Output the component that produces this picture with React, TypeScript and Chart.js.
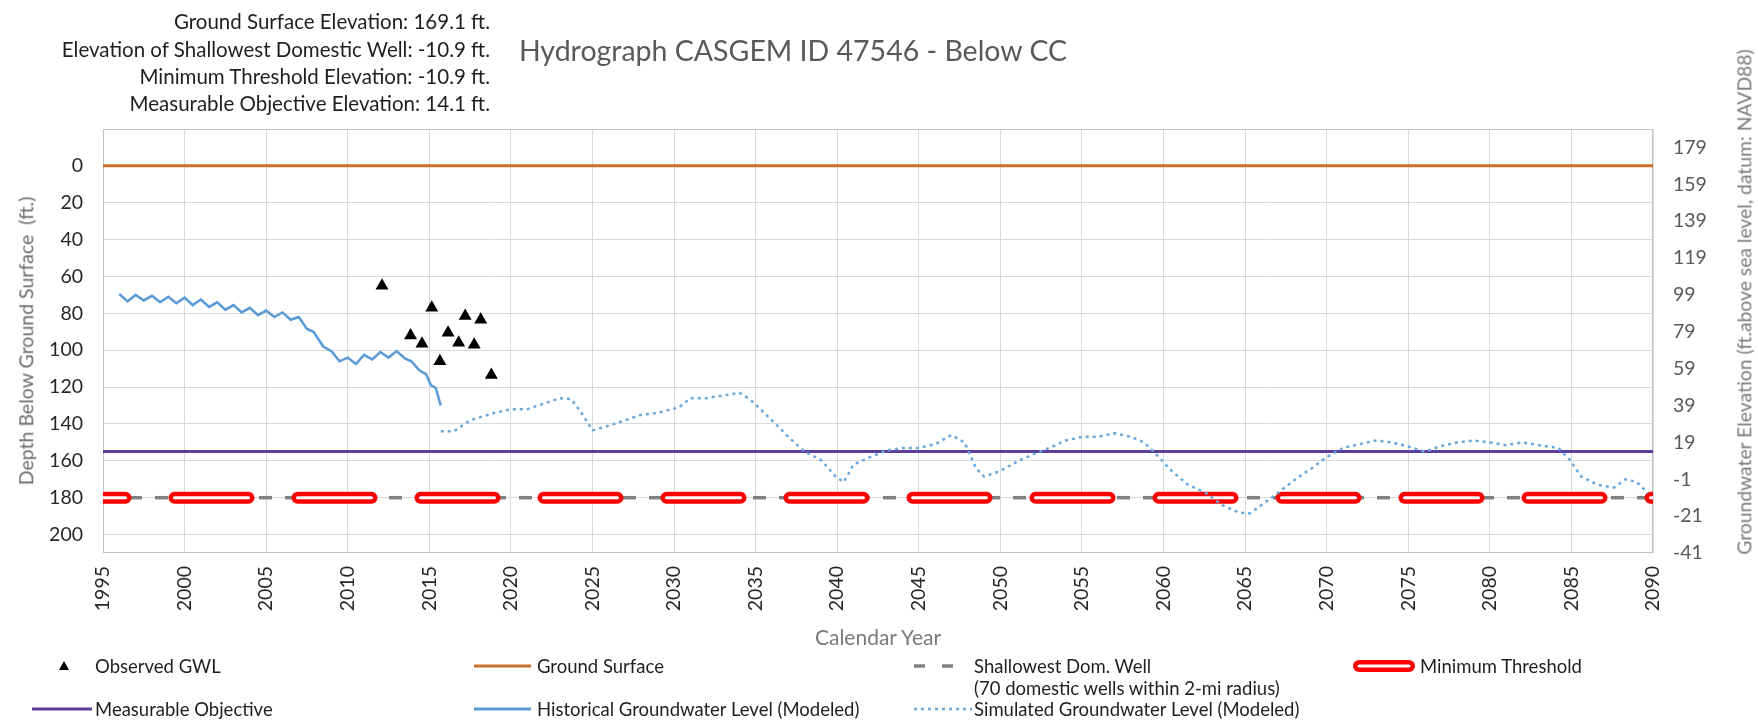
import React, { useEffect, useRef } from "react";
import { Chart, registerables } from "chart.js";

Chart.register(...registerables);

// ---- reference elevations (ft, NAVD88) ----
const GROUND_SURFACE_ELEV = 169.1;
const SHALLOW_WELL_ELEV = -10.9;
const MIN_THRESHOLD_ELEV = -10.9;
const MEASURABLE_OBJ_ELEV = 14.1;

// ---- axes ----
const yearRange = [1995, 2090];
const yearTicks = [1995, 2000, 2005, 2010, 2015, 2020, 2025, 2030, 2035, 2040, 2045, 2050, 2055, 2060, 2065, 2070, 2075, 2080, 2085, 2090];
const depthRange = [-20, 210];
const depthTicks = [0, 20, 40, 60, 80, 100, 120, 140, 160, 180, 200];
const elevationRange = [-41, 189];
const elevationTicks = [-41, -21, -1, 19, 39, 59, 79, 99, 119, 139, 159, 179];

// ---- observed groundwater levels (depth below ground surface, ft) ----
const observedYears = [2012.1, 2013.85, 2014.55, 2015.15, 2015.65, 2016.15, 2016.8, 2017.2, 2017.75, 2018.15, 2018.8];
const observedDepths = [65, 92, 96.5, 77, 106, 90.5, 96, 81.5, 97, 83.5, 113.5];

// ---- historical groundwater level (modeled) ----
const historicalYears = [1996.0, 1996.5, 1997.0, 1997.5, 1998.0, 1998.5, 1999.0, 1999.5, 2000.0, 2000.5, 2001.0, 2001.5, 2002.0, 2002.5, 2003.0, 2003.5, 2004.0, 2004.5, 2005.0, 2005.5, 2006.0, 2006.5, 2007.0, 2007.5, 2007.9, 2008.5, 2009.0, 2009.5, 2010.0, 2010.5, 2011.0, 2011.5, 2012.0, 2012.5, 2013.0, 2013.5, 2013.9, 2014.4, 2014.8, 2015.1, 2015.4, 2015.7];
const historicalDepths = [69.5, 73.5, 70.0, 73.0, 70.5, 74.0, 71.0, 74.5, 71.5, 75.5, 72.5, 76.5, 74.0, 78.0, 75.5, 79.5, 77.0, 81.0, 78.5, 82.0, 79.5, 83.5, 82.0, 88.5, 90.0, 98.0, 100.5, 106.0, 104.0, 107.5, 102.5, 105.0, 101.0, 104.0, 100.5, 104.5, 106.0, 111.0, 113.0, 119.0, 120.5, 130.0];

// ---- simulated groundwater level (modeled) ----
const simulatedYears = [2015.7, 2016.5, 2017.5, 2019, 2020, 2021, 2022, 2023, 2023.7, 2024.4, 2025, 2026, 2027, 2028, 2029, 2030.3, 2031, 2032, 2033.4, 2034, 2034.7, 2036, 2037, 2038, 2039, 2039.9, 2040.4, 2041, 2042, 2043, 2044, 2045, 2046, 2047, 2047.8, 2048.5, 2049, 2050, 2051, 2052, 2053, 2054, 2055, 2056, 2057, 2058, 2058.8, 2059.5, 2060.5, 2061.5, 2062.6, 2063.6, 2064.6, 2065.3, 2066, 2067, 2068, 2069, 2070, 2071, 2072, 2073, 2074, 2075.3, 2076, 2077, 2078, 2079, 2080, 2081, 2082, 2083, 2084.2, 2084.9, 2085.6, 2086.6, 2087.6, 2088.3, 2089, 2089.7];
const simulatedDepths = [144, 144, 138, 134, 132, 132, 129, 126, 126.5, 135, 143.5, 141, 138, 135, 134, 131, 126, 126, 124, 123, 127, 138, 147, 155, 159.5, 168.5, 171.5, 162, 158, 154.5, 153, 153, 151, 146, 150, 164, 168.5, 165.5, 160.5, 156.5, 153, 149, 147, 147, 145, 147, 150, 156, 165.5, 173, 177.5, 184, 188, 188.5, 184, 177.5, 170.5, 164.5, 158, 153, 151, 149, 150, 153, 155, 152, 150, 149, 150, 151.5, 150, 151.5, 153, 159.5, 168.5, 173, 174.5, 170, 171.5, 177.5];

const FONT = "Lato, 'Open Sans', sans-serif";

const plotBorder = {
  id: "plotBorder",
  beforeDatasetsDraw(chart: any) {
    const { ctx, chartArea } = chart;
    const { left, top, right, bottom } = chartArea;
    ctx.save();
    ctx.strokeStyle = "#c4c4c4";
    ctx.lineWidth = 1;
    ctx.strokeRect(Math.round(left) + 0.5, Math.round(top) + 0.5, Math.round(right - left) - 1, Math.round(bottom - top) - 1);
    ctx.restore();
  },
};

export default function App() {
  const ref = useRef<HTMLCanvasElement | null>(null);

  useEffect(() => {
    const depthOf = (elev: number) => GROUND_SURFACE_ELEV - elev;
    const flat = (d: number) => yearRange.map((x) => ({ x, y: d }));
    const zip = (xs: number[], ys: number[]) => xs.map((x, i) => ({ x, y: ys[i] }));
    const tickList = (vals: number[]) => (s: any) => {
      s.ticks = vals.map((v) => ({ value: v }));
    };
    const tickFont = { family: FONT, size: 19.5 };

    const chart = new Chart(ref.current as HTMLCanvasElement, {
      type: "line",
      data: {
        datasets: [
          {
            label: "Observed GWL",
            data: zip(observedYears, observedDepths),
            showLine: false,
            pointStyle: "triangle",
            pointRadius: 7.5,
            pointBackgroundColor: "#000000",
            pointBorderColor: "#000000",
            pointBorderWidth: 0,
            yAxisID: "y",
          },
          {
            label: "Historical Groundwater Level (Modeled)",
            data: zip(historicalYears, historicalDepths),
            borderColor: "#5b9bd5",
            borderWidth: 2.5,
            pointRadius: 0,
            yAxisID: "y",
          },
          {
            label: "Simulated Groundwater Level (Modeled)",
            data: zip(simulatedYears, simulatedDepths),
            borderColor: "#6aa8dc",
            borderWidth: 2.5,
            borderDash: [3, 4],
            pointRadius: 0,
            yAxisID: "y",
          },
          {
            label: "Minimum Threshold inner",
            data: flat(depthOf(MIN_THRESHOLD_ELEV)),
            borderColor: "#ffffff",
            borderWidth: 3,
            borderDash: [74, 49],
            borderDashOffset: 51.5,
            borderCapStyle: "round",
            pointRadius: 0,
            clip: 0,
            yAxisID: "y",
          },
          {
            label: "Minimum Threshold",
            data: flat(depthOf(MIN_THRESHOLD_ELEV)),
            borderColor: "#ff0000",
            borderWidth: 12,
            borderDash: [74, 49],
            borderDashOffset: 51.5,
            borderCapStyle: "round",
            pointRadius: 0,
            clip: 0,
            yAxisID: "y",
          },
          {
            label: "Shallowest Dom. Well",
            data: flat(depthOf(SHALLOW_WELL_ELEV)),
            borderColor: "#808080",
            borderWidth: 3.5,
            borderDash: [13, 13],
            pointRadius: 0,
            clip: 0,
            yAxisID: "y",
          },
          {
            label: "Measurable Objective",
            data: flat(depthOf(MEASURABLE_OBJ_ELEV)),
            borderColor: "#5c3d99",
            borderWidth: 3,
            pointRadius: 0,
            yAxisID: "y",
          },
          {
            label: "Ground Surface",
            data: flat(depthOf(GROUND_SURFACE_ELEV)),
            borderColor: "#c9702a",
            borderWidth: 3,
            pointRadius: 0,
            yAxisID: "y",
          },
        ],
      } as any,
      options: {
        responsive: false,
        animation: false,
        devicePixelRatio: 1,
        layout: { padding: { top: 129, left: 0, right: 0, bottom: 0 } },
        plugins: {
          legend: { display: false },
          tooltip: { enabled: false },
          title: { display: false },
        },
        elements: { line: { tension: 0 } },
        scales: {
          x: {
            type: "linear",
            min: yearRange[0],
            max: yearRange[1],
            afterBuildTicks: tickList(yearTicks),
            afterFit: (s: any) => {
              s.height = 173;
            },
            grid: { color: "#d9d9d9", drawTicks: false },
            border: { display: false },
            ticks: {
              autoSkip: false,
              minRotation: 90,
              maxRotation: 90,
              padding: 13,
              color: "#262626",
              font: tickFont,
              callback: (v: any) => String(v),
            },
          },
          y: {
            type: "linear",
            position: "left",
            reverse: true,
            min: depthRange[0],
            max: depthRange[1],
            afterBuildTicks: tickList(depthTicks),
            afterFit: (s: any) => {
              s.width = 103;
            },
            grid: { color: "#d9d9d9", drawTicks: false },
            border: { display: false },
            ticks: {
              padding: 20,
              color: "#262626",
              font: tickFont,
              callback: (v: any) => String(v),
            },
          },
          y2: {
            type: "linear",
            position: "right",
            min: elevationRange[0],
            max: elevationRange[1],
            afterBuildTicks: tickList(elevationTicks),
            afterFit: (s: any) => {
              s.width = 105;
            },
            grid: { display: false, drawTicks: false },
            border: { display: false },
            ticks: {
              padding: 20,
              color: "#595959",
              font: tickFont,
              callback: (v: any) => String(v),
            },
          },
        },
      } as any,
      plugins: [plotBorder],
    });
    return () => chart.destroy();
  }, []);

  const abs = (left: number, top: number, extra: React.CSSProperties = {}): React.CSSProperties => ({
    position: "absolute",
    left,
    top,
    whiteSpace: "nowrap",
    lineHeight: 1,
    ...extra,
  });

  const infoLines = [
    "Ground Surface Elevation: 169.1 ft.",
    "Elevation of Shallowest Domestic Well: -10.9 ft.",
    "Minimum Threshold Elevation: -10.9 ft.",
    "Measurable Objective Elevation: 14.1 ft.",
  ];
  const infoY = [21, 48.5, 76, 103];

  const legendText: React.CSSProperties = { fontSize: 18.5, color: "#1f1f1f", transform: "translateY(-50%)" };
  const R1 = 666;
  const R2 = 709;

  return (
    <div style={{ position: "fixed", left: 0, top: 0, width: 1758, height: 726, background: "#ffffff", fontFamily: FONT, overflow: "hidden" }}>
      <canvas ref={ref} width={1758} height={726} style={{ position: "absolute", left: 0, top: 0, width: 1758, height: 726 }} />

      {infoLines.map((t, i) => (
        <div key={t} style={abs(0, infoY[i], { width: 490, textAlign: "right", fontSize: 20.5, color: "#1f1f1f", transform: "translateY(-50%)" })}>
          {t}
        </div>
      ))}

      <div style={abs(793, 50, { fontSize: 28.5, color: "#595959", transform: "translate(-50%,-50%)" })}>Hydrograph CASGEM ID 47546 - Below CC</div>

      <div style={abs(26, 341, { fontSize: 19.5, color: "#6b6b6b", transform: "translate(-50%,-50%) rotate(-90deg)" })}>Depth Below Ground Surface&nbsp;&nbsp;(ft.)</div>
      <div style={abs(1744, 302, { fontSize: 19.3, color: "#7a7a7a", transform: "translate(-50%,-50%) rotate(-90deg)" })}>Groundwater Elevation (ft.above sea level, datum: NAVD88)</div>
      <div style={abs(878, 636, { fontSize: 21, color: "#7a7a7a", transform: "translate(-50%,-50%)" })}>Calendar Year</div>

      {/* legend */}
      <svg style={{ position: "absolute", left: 0, top: 0, overflow: "visible" }} width={1758} height={726}>
        <polygon points={`64,${R1 - 5} 69,${R1 + 4} 59,${R1 + 4}`} fill="#000" />
        <line x1={32} y1={R2} x2={92} y2={R2} stroke="#5c3d99" strokeWidth={3} />
        <line x1={474} y1={R1} x2={531} y2={R1} stroke="#c9702a" strokeWidth={3} />
        <line x1={474} y1={R2} x2={531} y2={R2} stroke="#5b9bd5" strokeWidth={3} />
        <line x1={914} y1={R1} x2={953} y2={R1} stroke="#808080" strokeWidth={3.5} strokeDasharray="11 17" />
        <line x1={914} y1={R2} x2={972} y2={R2} stroke="#6aa8dc" strokeWidth={2.5} strokeDasharray="3 4" />
        <line x1={1359} y1={R1} x2={1409} y2={R1} stroke="#ff0000" strokeWidth={12} strokeLinecap="round" />
        <line x1={1359} y1={R1} x2={1409} y2={R1} stroke="#ffffff" strokeWidth={3} strokeLinecap="round" />
      </svg>
      <div style={abs(95, R1, legendText)}>Observed GWL</div>
      <div style={abs(95, R2, legendText)}>Measurable Objective</div>
      <div style={abs(537, R1, legendText)}>Ground Surface</div>
      <div style={abs(537, R2, legendText)}>Historical Groundwater Level (Modeled)</div>
      <div style={abs(974, R1, legendText)}>Shallowest Dom. Well</div>
      <div style={abs(974, 688, legendText)}>(70 domestic wells within 2-mi radius)</div>
      <div style={abs(974, R2, legendText)}>Simulated Groundwater Level (Modeled)</div>
      <div style={abs(1420, R1, legendText)}>Minimum Threshold</div>
    </div>
  );
}
